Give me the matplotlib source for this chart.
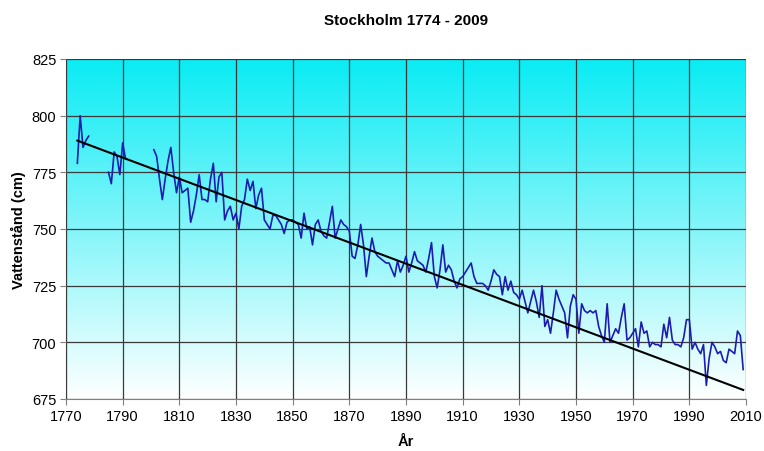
import matplotlib
matplotlib.use("Agg")
import matplotlib.pyplot as plt
from matplotlib.colors import LinearSegmentedColormap
import numpy as np

plt.rcParams['font.family'] = ['Liberation Sans', 'DejaVu Sans']

# Stockholm annual mean sea level (cm)
early_years = list(range(1774, 1779))
early_levels = [779, 800, 786, 789, 791]

mid_years = list(range(1785, 1792))
mid_levels = [775, 770, 784, 782, 774, 788, 781]

main_start = 1801
main_levels = [
    785, 782, 772, 763, 772, 780, 786, 775, 766, 773,   # 1801-1810
    766, 767, 768, 753, 758, 765, 774, 763, 763, 762,   # 1811-1820
    772, 779, 762, 773, 775, 754, 758, 760, 754, 757,   # 1821-1830
    750, 760, 763, 772, 767, 771, 759, 765, 768, 754,   # 1831-1840
    752, 750, 756, 756, 754, 752, 748, 753, 754, 754,   # 1841-1850
    753, 752, 746, 757, 750, 751, 743, 752, 754, 749,   # 1851-1860
    747, 746, 753, 760, 746, 750, 754, 752, 751, 749,   # 1861-1870
    738, 737, 743, 752, 743, 729, 738, 746, 740, 738,   # 1871-1880
    737, 736, 735, 735, 732, 729, 736, 731, 734, 738,   # 1881-1890
    731, 735, 740, 736, 735, 734, 731, 737, 744, 729,   # 1891-1900
    724, 732, 743, 731, 734, 732, 727, 724, 728, 729,   # 1901-1910
    731, 733, 735, 729, 726, 726, 726, 725, 723, 727,   # 1911-1920
    732, 730, 729, 721, 729, 723, 727, 722, 721, 719,   # 1921-1930
    723, 718, 713, 718, 723, 718, 711, 725, 707, 710,   # 1931-1940
    704, 713, 723, 719, 716, 713, 702, 716, 721, 719,   # 1941-1950
    704, 717, 714, 713, 714, 713, 714, 707, 703, 700,   # 1951-1960
    717, 700, 703, 706, 704, 711, 717, 701, 702, 704,   # 1961-1970
    706, 698, 709, 704, 705, 698, 700, 699, 699, 698,   # 1971-1980
    708, 702, 711, 701, 699, 699, 698, 702, 710, 710,   # 1981-1990
    697, 700, 697, 695, 699, 681, 693, 700, 698, 695,   # 1991-2000
    696, 692, 691, 697, 696, 695, 705, 703, 688,        # 2001-2009
]
main_years = list(range(main_start, main_start + len(main_levels)))

trend_years = [1774, 2009]
trend_levels = [789, 679]

x_ticks = list(range(1770, 2011, 20))
y_ticks = list(range(675, 826, 25))

# join the segments with NaN gaps so the line breaks like in the original
years = early_years + [1779] + mid_years + [1792] + main_years
levels = early_levels + [np.nan] + mid_levels + [np.nan] + main_levels

fig = plt.figure(figsize=(7.64, 4.52), dpi=100)
ax = fig.add_axes([66 / 764, 1 - 400 / 452, 680 / 764, 340 / 452])

# cyan -> white gradient background
cmap = LinearSegmentedColormap.from_list("bg", ["#ffffff", "#0aecf4"])
grad = np.linspace(0, 1, 256).reshape(-1, 1)
ax.imshow(grad, cmap=cmap, aspect="auto", origin="lower",
          extent=[1770, 2010, 675, 825], zorder=0)

ax.plot(years, levels, color="#1c1cb0", lw=1.2, zorder=3)
ax.plot(trend_years, trend_levels, color="black", lw=1.5, zorder=4)

ax.set_xlim(1770, 2010)
ax.set_ylim(675, 825)
ax.set_xticks(x_ticks)
ax.set_yticks(y_ticks)
ax.grid(True, color="#3a3a3a", lw=0.9, zorder=1)
ax.set_axisbelow(False)
for s in ["top", "right"]:
    ax.spines[s].set_visible(False)
for s in ["left", "bottom"]:
    ax.spines[s].set_color("#808080")
ax.tick_params(direction="out", length=4, color="#808080", labelsize=10.5, pad=3)

ax.set_title("Stockholm 1774 - 2009", fontsize=11, fontweight="bold", pad=25)
ax.set_xlabel("År", fontsize=10.5, fontweight="bold", labelpad=8)
ax.set_ylabel("Vattenstånd (cm)", fontsize=10.5, fontweight="bold", labelpad=4)

fig.savefig("out.png", dpi=100)
